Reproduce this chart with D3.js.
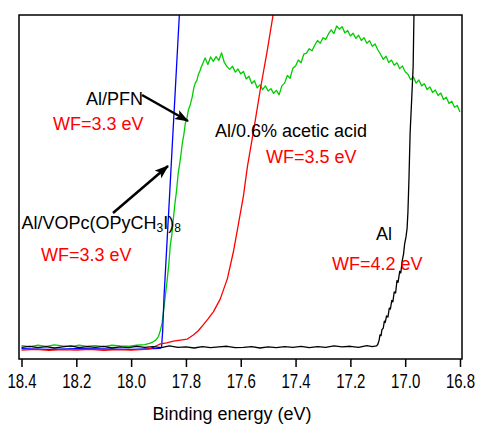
<!DOCTYPE html>
<html>
<head>
<meta charset="utf-8">
<script src="https://cdn.jsdelivr.net/npm/d3@7"></script>
<style>
  body { margin: 0; background: #fff; }
  svg { display: block; font-family: "Liberation Sans", Arial, sans-serif; }
</style>
</head>
<body>
<svg width="477" height="424"></svg>
<script>
// binding energy (eV) / intensity (arb. units) pairs
const greenSeries = [
  [18.40, 3.9], [18.37, 3.6], [18.34, 4.0], [18.31, 3.7], [18.28, 4.1], [18.25, 3.8],
  [18.22, 3.6], [18.19, 4.0], [18.16, 3.7], [18.13, 3.9], [18.10, 3.6], [18.07, 4.0],
  [18.04, 3.8], [18.01, 3.7], [17.98, 4.0], [17.95, 4.2], [17.93, 4.6], [17.92, 5.0],
  [17.91, 5.5], [17.90, 6.6], [17.893, 8.4], [17.887, 10.5], [17.882, 13.7], [17.875, 18.5],
  [17.868, 23.3], [17.862, 28.0], [17.857, 33.1], [17.851, 36.4], [17.846, 40.7], [17.840, 45.3],
  [17.835, 48.4], [17.828, 54.1], [17.822, 57.2], [17.818, 59.6], [17.813, 62.8], [17.808, 65.0],
  [17.802, 68.6], [17.796, 70.1], [17.791, 72.4], [17.784, 74.0], [17.777, 76.2], [17.771, 78.9],
  [17.766, 80.2], [17.760, 81.0], [17.755, 82.6], [17.749, 83.7], [17.744, 84.9],
  [17.73, 87.5], [17.72, 85.6], [17.71, 87.8], [17.70, 86.5], [17.69, 87.9], [17.68, 86.8],
  [17.67, 89.0], [17.66, 86.2], [17.65, 85.0], [17.64, 84.2], [17.63, 85.1], [17.62, 83.4],
  [17.61, 84.3], [17.60, 82.9], [17.59, 83.6], [17.58, 81.4], [17.57, 82.2], [17.56, 80.1],
  [17.55, 80.9], [17.54, 78.8], [17.53, 79.7], [17.52, 78.3], [17.51, 79.4], [17.50, 77.9],
  [17.49, 78.6], [17.48, 77.2], [17.47, 78.1], [17.46, 76.8], [17.45, 79.4], [17.44, 80.2],
  [17.43, 82.4], [17.42, 81.6], [17.41, 84.5], [17.40, 85.2], [17.39, 86.9], [17.38, 86.1],
  [17.37, 88.6], [17.36, 88.9], [17.35, 90.2], [17.34, 89.6], [17.33, 91.2], [17.32, 92.6],
  [17.31, 91.8], [17.30, 93.4], [17.29, 92.9], [17.28, 94.5], [17.27, 95.7], [17.26, 94.6],
  [17.25, 96.8], [17.24, 95.9], [17.23, 96.6], [17.22, 94.8], [17.21, 95.5], [17.20, 93.9],
  [17.19, 94.7], [17.18, 93.2], [17.17, 94.1], [17.16, 92.6], [17.15, 93.4], [17.14, 91.8],
  [17.13, 92.5], [17.12, 90.9], [17.11, 91.6], [17.10, 89.9], [17.09, 88.6], [17.08, 87.1],
  [17.07, 88.0], [17.06, 86.2], [17.05, 86.9], [17.04, 85.4], [17.03, 86.1], [17.02, 84.4],
  [17.01, 85.2], [17.00, 83.5], [16.99, 82.8], [16.98, 81.2], [16.97, 82.0], [16.96, 80.2],
  [16.95, 81.1], [16.94, 79.4], [16.93, 80.0], [16.92, 78.3], [16.91, 79.1], [16.90, 77.5],
  [16.89, 78.2], [16.88, 76.6], [16.87, 77.3], [16.86, 75.4], [16.85, 76.1], [16.84, 74.3],
  [16.83, 74.9], [16.82, 73.2], [16.81, 73.7], [16.80, 71.8]
];

const blueSeries = [
  [18.40, 3.0], [18.30, 2.8], [18.20, 3.0], [18.10, 2.9], [18.00, 2.8], [17.92, 3.0],
  [17.895, 3.1], [17.889, 3.4], [17.885, 8.0], [17.88, 18.0], [17.87, 32.6], [17.86, 47.1],
  [17.85, 61.9], [17.84, 76.5], [17.83, 91.3], [17.82, 105.8]
];

const redSeries = [
  [18.40, 2.6], [18.35, 2.8], [18.30, 2.5], [18.25, 2.7], [18.20, 2.6], [18.15, 2.8],
  [18.10, 2.5], [18.05, 2.7], [18.00, 2.6], [17.95, 2.8], [17.93, 3.0], [17.904, 4.0],
  [17.893, 4.4], [17.87, 4.7], [17.846, 5.2], [17.82, 5.5], [17.795, 5.8], [17.773, 7.0],
  [17.755, 8.2], [17.737, 9.9], [17.72, 11.6], [17.70, 13.7], [17.675, 17.4], [17.649, 23.3],
  [17.627, 31.1], [17.609, 39.0], [17.59, 47.5], [17.576, 55.8], [17.551, 67.4], [17.529, 78.2],
  [17.503, 89.8], [17.482, 100], [17.46, 110]
];

const blackSeries = [
  [18.40, 3.4], [18.37, 3.7], [18.34, 3.3], [18.31, 3.6], [18.28, 3.2], [18.25, 3.5],
  [18.22, 3.8], [18.19, 3.3], [18.16, 3.6], [18.13, 3.4], [18.10, 3.7], [18.07, 3.2],
  [18.04, 3.5], [18.01, 3.3], [17.98, 3.7], [17.95, 3.4], [17.92, 3.6], [17.89, 3.3],
  [17.86, 3.8], [17.83, 3.4], [17.80, 3.5], [17.77, 3.2], [17.74, 3.6], [17.71, 3.3],
  [17.68, 3.5], [17.65, 3.7], [17.62, 3.3], [17.59, 3.4], [17.56, 3.6], [17.53, 3.2],
  [17.50, 3.5], [17.47, 3.3], [17.44, 3.6], [17.41, 3.4], [17.38, 3.7], [17.35, 3.3],
  [17.32, 3.6], [17.29, 3.4], [17.26, 3.8], [17.23, 3.5], [17.20, 3.7], [17.17, 3.4],
  [17.14, 3.9], [17.12, 3.6], [17.105, 3.8], [17.10, 4.2], [17.095, 5.5], [17.092, 7.0],
  [17.088, 6.8], [17.085, 8.5], [17.080, 9.0], [17.076, 11.0], [17.073, 10.6], [17.068, 12.5],
  [17.063, 12.2], [17.058, 14.8], [17.054, 14.5], [17.049, 17.0], [17.045, 16.6], [17.040, 19.5],
  [17.035, 19.2], [17.030, 22.8], [17.026, 22.3], [17.020, 25.5], [17.016, 25.0], [17.011, 28.5],
  [17.006, 30.5], [17.002, 33.5], [16.997, 35.5], [16.993, 38.0], [16.990, 42.7], [16.986, 53.0],
  [16.982, 65.7], [16.976, 76.0], [16.971, 84.9], [16.968, 100], [16.964, 112]
];

const xTicks = [18.4, 18.2, 18.0, 17.8, 17.6, 17.4, 17.2, 17.0, 16.8];
const xTitle = 'Binding energy (eV)';

const svg = d3.select('svg');
const frame = { left: 19, top: 15, right: 462, bottom: 359 };

const x = d3.scaleLinear().domain([18.4, 16.8]).range([21.5, 460]);
const y = d3.scaleLinear().domain([0, 100]).range([frame.bottom, frame.top]);

svg.append('defs').append('clipPath')
  .attr('id', 'plot-clip')
  .append('rect')
  .attr('x', frame.left)
  .attr('y', frame.top)
  .attr('width', frame.right - frame.left)
  .attr('height', frame.bottom - frame.top);

const line = d3.line()
  .x(d => x(d[0]))
  .y(d => y(d[1]));

const curves = svg.append('g').attr('clip-path', 'url(#plot-clip)');
[
  [greenSeries, '#00cc00'],
  [blueSeries, '#0000ff'],
  [redSeries, '#ff0000'],
  [blackSeries, '#000000'],
].forEach(([data, color]) => {
  curves.append('path')
    .datum(data)
    .attr('d', line)
    .attr('fill', 'none')
    .attr('stroke', color)
    .attr('stroke-width', 1.3)
    .attr('stroke-linejoin', 'round');
});

// frame
svg.append('rect')
  .attr('x', frame.left)
  .attr('y', frame.top)
  .attr('width', frame.right - frame.left)
  .attr('height', frame.bottom - frame.top)
  .attr('fill', 'none')
  .attr('stroke', '#000')
  .attr('stroke-width', 1.5);

const xAxis = svg.append('g')
  .attr('transform', `translate(0,${frame.bottom})`)
  .call(d3.axisBottom(x).tickValues(xTicks).tickFormat(d3.format('.1f')).tickSize(8));

xAxis.select('.domain').remove();
xAxis.selectAll('.tick line').attr('stroke', '#000').attr('stroke-width', 1.5);
xAxis.selectAll('.tick text')
  .attr('y', 29)
  .attr('dy', null)
  .attr('fill', '#000')
  .attr('transform', 'scale(0.75,1)')
  .style('font-size', '20px')
  .style('font-family', '"Liberation Sans", Arial, sans-serif');

svg.append('text')
  .attr('x', 232)
  .attr('y', 420)
  .attr('text-anchor', 'middle')
  .style('font-size', '18px')
  .text(xTitle);

// annotations
const labels = [
  { text: 'Al/PFN', x: 86, y: 105, color: '#000' },
  { text: 'WF=3.3 eV', x: 53, y: 130, color: '#ff0000' },
  { text: 'Al/0.6% acetic acid', x: 215, y: 137, color: '#000' },
  { text: 'WF=3.5 eV', x: 266, y: 163, color: '#ff0000' },
  { text: 'WF=3.3 eV', x: 41, y: 261, color: '#ff0000' },
  { text: 'Al', x: 376, y: 240, color: '#000' },
  { text: 'WF=4.2 eV', x: 332, y: 270, color: '#ff0000' },
];

svg.append('g').selectAll('text')
  .data(labels)
  .join('text')
  .attr('x', d => d.x)
  .attr('y', d => d.y)
  .attr('fill', d => d.color)
  .style('font-size', '18px')
  .text(d => d.text);

const vo = svg.append('text')
  .attr('x', 21.5)
  .attr('y', 229)
  .style('font-size', '18px');
vo.append('tspan').text('Al/VOPc(OPyCH');
vo.append('tspan').attr('dy', 3).style('font-size', '12px').text('3');
vo.append('tspan').attr('dy', -3).text('I)');
vo.append('tspan').attr('dy', 3).style('font-size', '12px').text('8');

svg.select('defs').append('marker')
  .attr('id', 'arrow')
  .attr('markerUnits', 'userSpaceOnUse')
  .attr('viewBox', '0 0 14 10')
  .attr('refX', 13)
  .attr('refY', 5)
  .attr('markerWidth', 14)
  .attr('markerHeight', 10)
  .attr('orient', 'auto')
  .append('path')
  .attr('d', 'M0,0 L14,5 L0,10 L3,5 Z')
  .attr('fill', '#000');

const arrows = [
  [142, 95, 188, 121],
  [113, 213, 168, 166],
];

svg.append('g').selectAll('line')
  .data(arrows)
  .join('line')
  .attr('x1', d => d[0])
  .attr('y1', d => d[1])
  .attr('x2', d => d[2])
  .attr('y2', d => d[3])
  .attr('stroke', '#000')
  .attr('stroke-width', 2.5)
  .attr('marker-end', 'url(#arrow)');
</script>
</body>
</html>
